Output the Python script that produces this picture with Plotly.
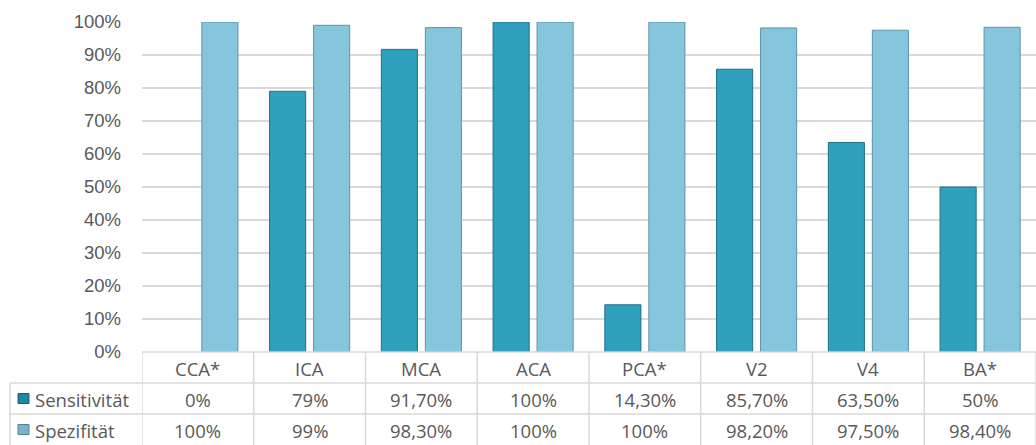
import plotly.graph_objects as go

# Categories and values (fractions)
categories = ["CCA*", "ICA", "MCA", "ACA", "PCA*", "V2", "V4", "BA*"]
sensitivity = [0.0, 0.79, 0.917, 1.0, 0.143, 0.857, 0.635, 0.50]
specificity = [1.0, 0.99, 0.983, 1.0, 1.0, 0.982, 0.975, 0.984]
sens_labels = ["0%", "79%", "91,70%", "100%", "14,30%", "85,70%", "63,50%", "50%"]
spec_labels = ["100%", "99%", "98,30%", "100%", "100%", "98,20%", "97,50%", "98,40%"]
series_names = ["Sensitivität", "Spezifität"]
y_ticks = [i / 10 for i in range(11)]
y_ticktext = [f"{i * 10}%" for i in range(11)]

W, H = 1036, 445
L, R, T, B = 142, 0, 22, 93
PW, PH = W - L - R, H - T - B

def px_x(p):
    return (p - L) / PW

def px_y(p):
    return (H - B - p) / PH

SENS_COLOR = "#30a0bf"
SENS_LINE = "#1f6e84"
SPEC_COLOR = "#86c6dd"
SPEC_LINE = "#5e93a7"
GRID = "#d9d9d9"
TEXT = "#595959"

xs = list(range(len(categories)))

def border_widths(values):
    # no outline for empty bars
    return [1 if v > 0 else 0 for v in values]

fig = go.Figure()
fig.add_trace(go.Bar(x=xs, y=sensitivity, name=series_names[0],
                     marker=dict(color=SENS_COLOR,
                                 line=dict(color=SENS_LINE, width=border_widths(sensitivity)))))
fig.add_trace(go.Bar(x=xs, y=specificity, name=series_names[1],
                     marker=dict(color=SPEC_COLOR,
                                 line=dict(color=SPEC_LINE, width=border_widths(specificity)))))

shapes = []
annotations = []
line = dict(color=GRID, width=1.5)

# table row borders
row_top, row1, row2, row_bot = 352, 383, 414, 445
shapes.append(dict(type="line", xref="paper", yref="paper", x0=0, x1=1,
                   y0=px_y(row_top), y1=px_y(row_top), line=line))
for yy in (row1, row2):
    shapes.append(dict(type="line", xref="paper", yref="paper", x0=px_x(10), x1=1,
                       y0=px_y(yy), y1=px_y(yy), line=line))
# column borders
shapes.append(dict(type="line", xref="paper", yref="paper", x0=px_x(10), x1=px_x(10),
                   y0=px_y(row1), y1=px_y(row_bot), line=line))
for i in range(len(categories) + 1):
    shapes.append(dict(type="line", xref="x", yref="paper", x0=i - 0.5, x1=i - 0.5,
                       y0=px_y(row_top), y1=px_y(row_bot), line=line))

font_tbl = dict(family="Open Sans, Noto Sans, sans-serif", size=18.5, color=TEXT)
for i, cat in enumerate(categories):
    for row, txt in (((row_top, row1), cat),
                     ((row1, row2), sens_labels[i]),
                     ((row2, row_bot), spec_labels[i])):
        annotations.append(dict(x=i, y=px_y((row[0] + row[1]) / 2 + 1), xref="x", yref="paper",
                                text=txt, showarrow=False, xanchor="center", yanchor="middle",
                                font=font_tbl))

# row headers with legend keys
for (y0, y1), name, col, lc in (((row1, row2), series_names[0], "#1f86a3", "#16627a"),
                                ((row2, row_bot), series_names[1], "#7ab3c8", "#4f8498")):
    cy = (y0 + y1) / 2
    shapes.append(dict(type="rect", xref="paper", yref="paper",
                       x0=px_x(18), x1=px_x(29), y0=px_y(cy - 5), y1=px_y(cy + 5),
                       fillcolor=col, line=dict(color=lc, width=1)))
    annotations.append(dict(x=px_x(33), y=px_y(cy + 1), xref="paper", yref="paper",
                            text=name, showarrow=False, xanchor="left", yanchor="middle",
                            font=font_tbl))

fig.update_layout(
    width=W, height=H,
    margin=dict(l=L, r=R, t=T, b=B),
    paper_bgcolor="white", plot_bgcolor="white",
    barmode="group", bargap=0.2125, bargroupgap=0.18,
    showlegend=False,
    shapes=shapes, annotations=annotations,
    xaxis=dict(range=[-0.5, len(categories) - 0.5], showticklabels=False,
               showgrid=False, zeroline=False, showline=False),
    yaxis=dict(range=[0, 1], tickvals=y_ticks, ticktext=y_ticktext,
               showgrid=True, gridcolor=GRID, gridwidth=2, zeroline=False,
               showline=False, ticks="", ticklabelstandoff=20,
               tickfont=dict(family="Liberation Sans, Arial, sans-serif", size=18.5, color=TEXT)),
)

fig.write_html("out.html")
